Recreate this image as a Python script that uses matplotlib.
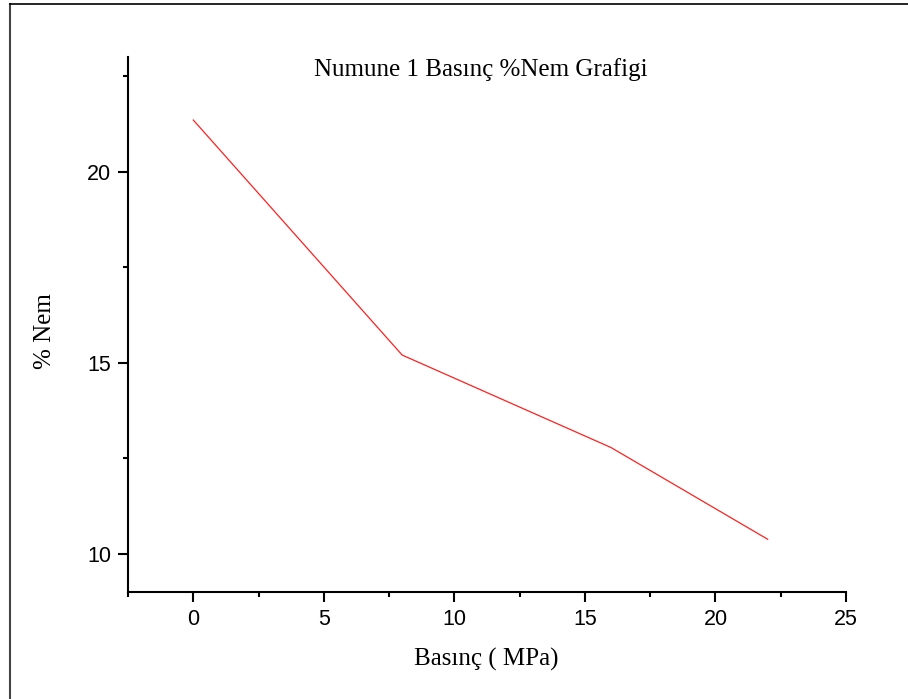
import matplotlib.pyplot as plt
from matplotlib.lines import Line2D
from matplotlib.ticker import MultipleLocator

# basinc (MPa) ve nem yuzdesi
basinc = [0, 8, 16, 22]
nem = [21.35, 15.2, 12.78, 10.38]

fig = plt.figure(figsize=(9.08, 6.99), dpi=100)
ax = fig.add_axes([0.141, 0.1531, 0.7907, 0.7654])

ax.plot(basinc, nem, color='#ff2020', lw=0.9)

ax.set_xlim(-2.5, 25)
ax.set_ylim(9, 23)
ax.xaxis.set_major_locator(MultipleLocator(5))
ax.xaxis.set_minor_locator(MultipleLocator(2.5))
ax.yaxis.set_major_locator(MultipleLocator(5))
ax.yaxis.set_minor_locator(MultipleLocator(2.5))

for s in ['top', 'right']:
    ax.spines[s].set_visible(False)
for s in ['left', 'bottom']:
    ax.spines[s].set_linewidth(1.5)

ax.tick_params(which='major', direction='out', length=7, width=1.5, pad=5,
               labelsize=15.5, labelfontfamily='Liberation Sans')
ax.tick_params(which='minor', direction='out', length=3.5, width=1.5)

fig.text(0.529, 0.9, 'Numune 1 Basınç %Nem Grafigi', ha='center', va='center',
         fontsize=18, family='Liberation Serif')
fig.text(0.536, 0.056, 'Basınç ( MPa)', ha='center', va='center',
         fontsize=18, family='Liberation Serif')
fig.text(0.05, 0.527, '% Nem', ha='center', va='center', rotation=90,
         fontsize=18, family='Liberation Serif')

# cerceve
fig.add_artist(Line2D([0.0105, 0.0105], [0, 0.994], color='#444444', lw=1.5))
fig.add_artist(Line2D([0.0105, 1], [0.994, 0.994], color='black', lw=1.2))

fig.savefig('out.png', dpi=100)
